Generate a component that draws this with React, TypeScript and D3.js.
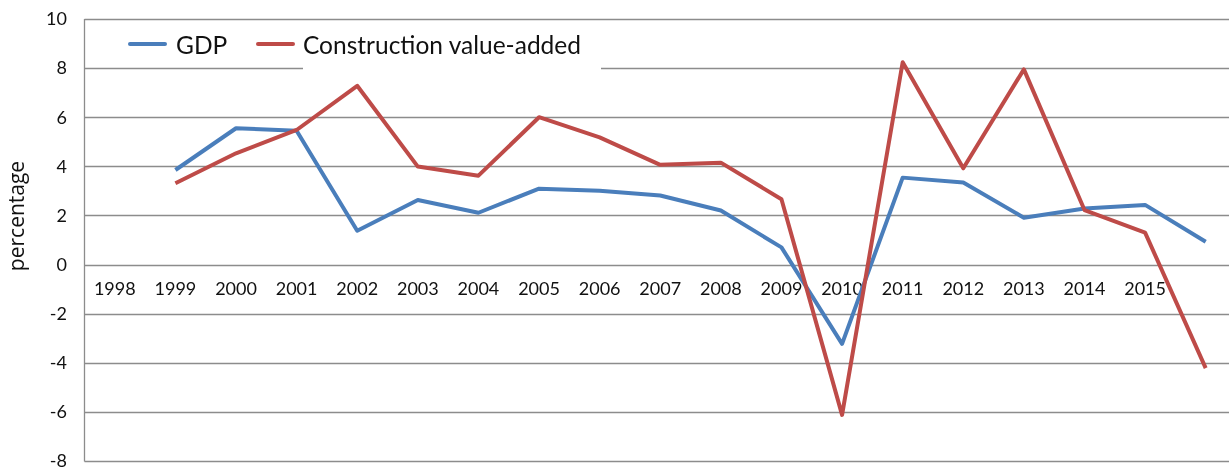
import React, { useEffect, useRef } from "react";
import * as d3 from "d3";

const years = [
  "1998", "1999", "2000", "2001", "2002", "2003", "2004", "2005", "2006", "2007",
  "2008", "2009", "2010", "2011", "2012", "2013", "2014", "2015", "2016",
];
// the last category has no label in the original
const yearLabels = years.slice(0, 18);

const gdp = [
  null, 3.85, 5.55, 5.45, 1.38, 2.63, 2.11, 3.09, 3.01, 2.81,
  2.2, 0.7, -3.23, 3.54, 3.34, 1.91, 2.28, 2.43, 0.93,
];
const construction = [
  null, 3.31, 4.53, 5.48, 7.28, 3.99, 3.62, 6.0, 5.18, 4.06,
  4.15, 2.66, -6.12, 8.24, 3.92, 7.95, 2.22, 1.3, -4.22,
];
const yTicks = [-8, -6, -4, -2, 0, 2, 4, 6, 8, 10];

const series = [
  { name: "GDP", values: gdp, color: "#4a7ebb" },
  { name: "Construction value-added", values: construction, color: "#be4b48" },
];

const App = () => {
  const svgRef = useRef<SVGSVGElement>(null);

  useEffect(() => {
    const w = 1229;
    const h = 470;
    const left = 84.5;
    const right = 1236;
    const top = 19;
    const bottom = 461;
    const font = "Lato, 'Open Sans', sans-serif";

    const svg = d3.select(svgRef.current).attr("width", w).attr("height", h);
    svg.selectAll("*").remove();

    const x = d3.scaleBand().domain(years).range([left, right]);
    const y = d3.scaleLinear().domain([-8, 10]).range([bottom, top]);
    const cx = (d: string) => (x(d) as number) + x.bandwidth() / 2;

    // gridlines
    svg
      .append("g")
      .selectAll("line")
      .data(yTicks)
      .join("line")
      .attr("x1", left)
      .attr("x2", right)
      .attr("y1", (d) => Math.round(y(d)) + 0.5)
      .attr("y2", (d) => Math.round(y(d)) + 0.5)
      .attr("stroke", "#8c8c8c")
      .attr("stroke-width", 1.3);

    // left axis line
    svg
      .append("line")
      .attr("x1", left)
      .attr("x2", left)
      .attr("y1", top)
      .attr("y2", bottom + 0.5)
      .attr("stroke", "#8c8c8c")
      .attr("stroke-width", 1.3);

    // y tick labels
    svg
      .append("g")
      .selectAll("text")
      .data(yTicks)
      .join("text")
      .attr("x", 67)
      .attr("y", (d) => y(d))
      .attr("dy", "0.35em")
      .attr("text-anchor", "end")
      .style("font-family", font)
      .style("font-size", "18px")
      .attr("fill", "#111")
      .text((d) => d);

    // x labels at the zero line
    svg
      .append("g")
      .selectAll("text")
      .data(yearLabels)
      .join("text")
      .attr("x", (d) => cx(d))
      .attr("y", y(0) + 30)
      .attr("text-anchor", "middle")
      .style("font-family", font)
      .style("font-size", "18px")
      .attr("fill", "#111")
      .text((d) => d);

    // y axis title
    svg
      .append("text")
      .attr("transform", `translate(24,216) rotate(-90)`)
      .attr("text-anchor", "middle")
      .style("font-family", "'Open Sans', sans-serif")
      .style("font-size", "21px")
      .attr("fill", "#111")
      .text("percentage");

    // lines
    const line = d3
      .line<number | null>()
      .defined((d) => d !== null)
      .x((_, i) => cx(years[i]))
      .y((d) => y(d as number));

    svg
      .append("g")
      .selectAll("path")
      .data(series)
      .join("path")
      .attr("d", (s) => line(s.values))
      .attr("fill", "none")
      .attr("stroke", (s) => s.color)
      .attr("stroke-width", 4)
      .attr("stroke-linejoin", "round");

    // legend
    const legend = svg.append("g");
    legend
      .append("rect")
      .attr("x", 303)
      .attr("y", 24)
      .attr("width", 298)
      .attr("height", 48)
      .attr("fill", "#fff");

    const items = [
      { s: series[0], x0: 130, tx: 176 },
      { s: series[1], x0: 258, tx: 303 },
    ];
    items.forEach(({ s, x0, tx }) => {
      legend
        .append("line")
        .attr("x1", x0)
        .attr("x2", x0 + 35)
        .attr("y1", 44)
        .attr("y2", 44)
        .attr("stroke", s.color)
        .attr("stroke-width", 4)
        .attr("stroke-linecap", "round");
      legend
        .append("text")
        .attr("x", tx)
        .attr("y", 54)
        .style("font-family", font)
        .style("font-size", "24.5px")
        .attr("fill", "#111")
        .text(s.name);
    });
  }, []);

  return (
    <div style={{ position: "fixed", left: 0, top: 0 }}>
      <svg ref={svgRef} style={{ display: "block" }}></svg>
    </div>
  );
};

export default App;
